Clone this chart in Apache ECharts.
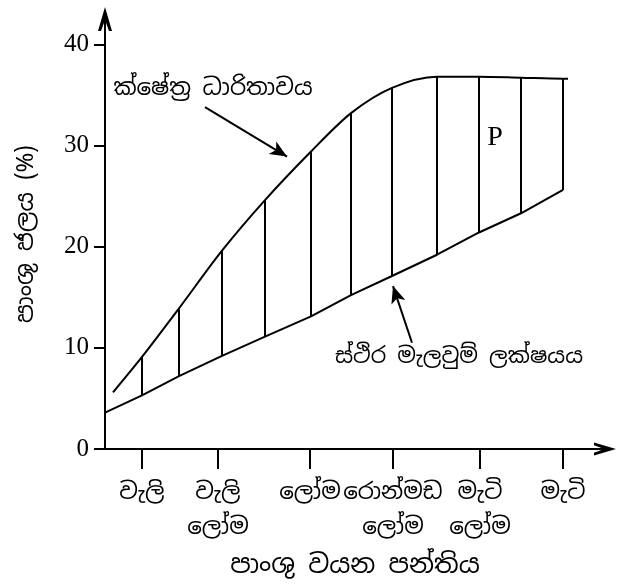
<!DOCTYPE html>
<html>
<head>
<meta charset="utf-8">
<script src="https://cdn.jsdelivr.net/npm/echarts@6/dist/echarts.min.js"></script>
<style>
html,body{margin:0;padding:0;background:#fff;}
#c{width:621px;height:584px;}
</style>
</head>
<body>
<div id="c"></div>
<script>
// ---- data ----
const textureLabels = ['වැලි', 'වැලි\nලෝම', 'ලෝම', 'රොන්මඩ\nලෝම', 'මැටි\nලෝම', 'මැටි'];
const texturePos = [7.4, 22.6, 41, 57.6, 75, 91.6];
const yTicks = [0, 10, 20, 30, 40];

// field capacity curve (upper)
const fcX = [1.6, 7.4, 14.8, 23.4, 32, 41.2, 49.2, 57.4, 66.4, 74.8, 83.2, 91.6, 92.6];
const fcY = [5.6, 9.1, 13.9, 19.6, 24.6, 29.4, 33.2, 35.7, 36.8, 36.8, 36.7, 36.6, 36.6];

// permanent wilting point (lower)
const pwpX = [0, 7.4, 14.8, 23.4, 32, 41.2, 49.2, 57.4, 66.4, 74.8, 83.2, 91.6];
const pwpY = [3.6, 5.3, 7.2, 9.2, 11.1, 13.1, 15.2, 17.1, 19.2, 21.4, 23.3, 25.6];

// hatch lines (x, bottom, top)
const hatchX = [7.4, 14.8, 23.4, 32, 41.2, 49.2, 57.4, 66.4, 74.8, 83.2, 91.6];
const hatchLow = [5.3, 7.2, 9.2, 11.1, 13.1, 15.2, 17.1, 19.2, 21.4, 23.3, 25.6];
const hatchHigh = [9.1, 13.9, 19.6, 24.6, 29.4, 33.2, 35.7, 36.8, 36.8, 36.7, 36.6];

// annotations
const fcLabel = 'ක්ෂේත්‍ර ධාරිතාවය';
const fcLabelPos = [21.6, 35.6];
const fcArrow = [[20, 33.8], [36.4, 28.9]];
const pwpLabel = 'ස්ථිර මැලවුම් ලක්ෂයය';
const pwpLabelPos = [70.8, 9.1];
const pwpArrow = [[61.4, 10.5], [57.6, 16.1]];
const pLabel = 'P';
const pLabelPos = [78, 30.8];

const xAxisName = 'පාංශු වයන පන්තිය';
const yAxisName = 'පාංශු ජලය (%)';

// ---- chart ----
const SIN = "'Noto Sans Sinhala','Noto Serif Sinhala','Iskoola Pota','Liberation Serif',serif";
const SERIF = "'Liberation Serif','DejaVu Serif',serif";
const arrowHead = 'path://M7,0 L14,24 L11,24 L7,13 L3,24 L0,24 Z';

const chart = echarts.init(document.getElementById('c'), null, {renderer: 'canvas'});
chart.setOption({
  animation: false,
  backgroundColor: '#fff',
  grid: {left: 105, right: 16, top: 19, bottom: 134, containLabel: false},
  xAxis: {
    type: 'value', min: 0, max: 100,
    name: xAxisName, nameLocation: 'middle', nameGap: 104,
    nameTextStyle: {fontFamily: SIN, fontSize: 26, color: '#000'},
    splitLine: {show: false},
    axisLine: {show: true, lineStyle: {color: '#000', width: 2}, symbol: ['none', arrowHead], symbolSize: [19, 22]},
    axisTick: {show: true, customValues: texturePos, length: 20, lineStyle: {color: '#000', width: 2}},
    axisLabel: {
      customValues: texturePos, margin: 26,
      fontFamily: SIN, fontSize: 23, color: '#000', lineHeight: 35,
      formatter: v => { const i = texturePos.indexOf(v); return i >= 0 ? textureLabels[i] : ''; }
    }
  },
  yAxis: {
    type: 'value', min: 0, max: 42.5, interval: 10,
    name: yAxisName, nameLocation: 'middle', nameGap: 67, nameRotate: 90,
    nameTextStyle: {fontFamily: SIN, fontSize: 24, color: '#000'},
    splitLine: {show: false},
    axisLine: {show: true, lineStyle: {color: '#000', width: 2}, symbol: ['none', arrowHead], symbolSize: [16, 24]},
    axisTick: {show: true, customValues: yTicks, length: 11, lineStyle: {color: '#000', width: 2}},
    axisLabel: {customValues: yTicks, margin: 16, fontFamily: SERIF, fontSize: 25, color: '#000'}
  },
  series: [
    {
      type: 'line', name: 'fc', smooth: 0.3, symbol: 'none',
      data: fcX.map((x, i) => [x, fcY[i]]),
      lineStyle: {color: '#000', width: 2},
      markLine: {
        silent: true, symbol: ['none', 'arrow'], symbolSize: [11, 17],
        label: {show: false},
        lineStyle: {color: '#000', width: 2, type: 'solid'},
        data: [
          [{coord: fcArrow[0]}, {coord: fcArrow[1]}],
          [{coord: pwpArrow[0]}, {coord: pwpArrow[1]}]
        ]
      },
      markPoint: {
        silent: true, symbol: 'circle', symbolSize: 1,
        itemStyle: {color: 'rgba(0,0,0,0)'},
        label: {show: true, position: 'inside', color: '#000', fontFamily: SIN, fontSize: 23},
        data: [
          {coord: fcLabelPos, value: fcLabel, label: {formatter: fcLabel}},
          {coord: pwpLabelPos, value: pwpLabel, label: {formatter: pwpLabel, fontSize: 22}},
          {coord: pLabelPos, value: pLabel, label: {formatter: pLabel, fontFamily: SERIF, fontSize: 28}}
        ]
      }
    },
    {
      type: 'line', name: 'pwp', smooth: false, symbol: 'none',
      data: pwpX.map((x, i) => [x, pwpY[i]]),
      lineStyle: {color: '#000', width: 2}
    },
    {
      type: 'custom', name: 'hatch',
      renderItem: (params, api) => {
        const p1 = api.coord([api.value(0), api.value(1)]);
        const p2 = api.coord([api.value(0), api.value(2)]);
        return {type: 'line', shape: {x1: p1[0], y1: p1[1], x2: p2[0], y2: p2[1]}, style: {stroke: '#000', lineWidth: 2}};
      },
      data: hatchX.map((x, i) => [x, hatchLow[i], hatchHigh[i]])
    }
  ]
});
</script>
</body>
</html>
